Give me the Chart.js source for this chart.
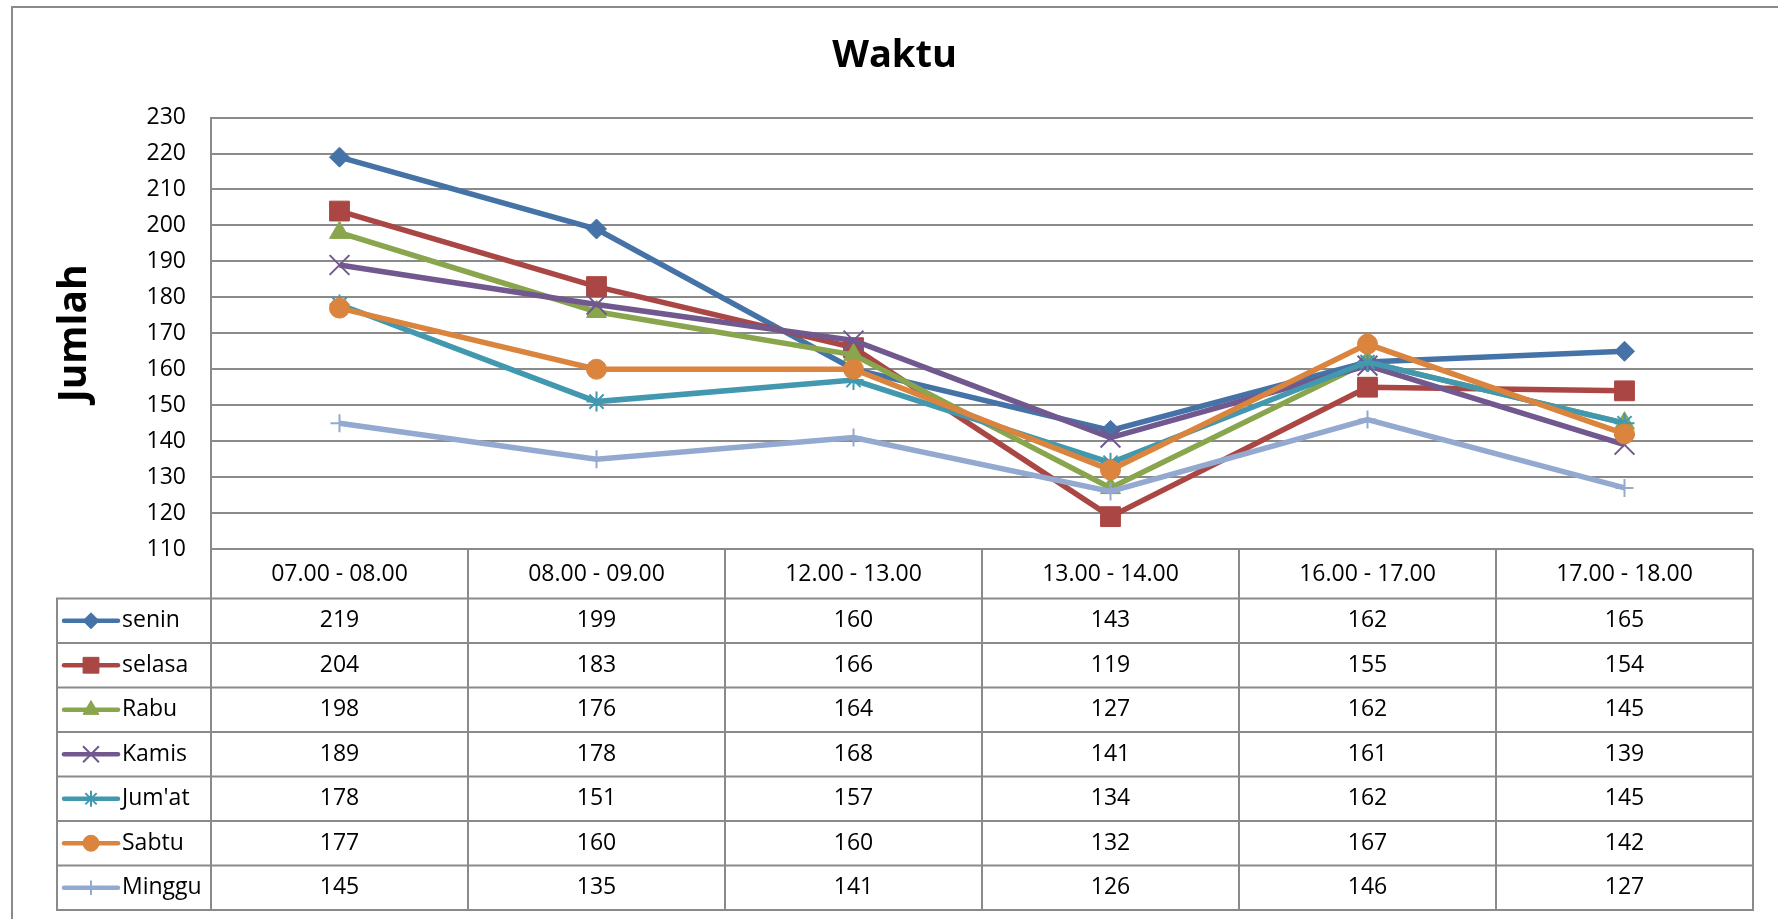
<!DOCTYPE html>
<html>
<head>
<meta charset="utf-8">
<title>Waktu</title>
<script src="https://cdn.jsdelivr.net/npm/chart.js@4.4.1/dist/chart.umd.min.js"></script>
<style>
    html, body { margin: 0; padding: 0; background: #fff; }
    #wrap { position: relative; width: 1778px; height: 919px; }
</style>
</head>
<body>
<div id="wrap"><canvas id="chart"></canvas></div>
<script>
//=================================================
//Data
//=================================================
const categories = ["07.00 - 08.00", "08.00 - 09.00", "12.00 - 13.00", "13.00 - 14.00", "16.00 - 17.00", "17.00 - 18.00"];
const seriesNames = ["senin", "selasa", "Rabu", "Kamis", "Jum'at", "Sabtu", "Minggu"];

const senin = [219, 199, 160, 143, 162, 165];
const selasa = [204, 183, 166, 119, 155, 154];
const rabu = [198, 176, 164, 127, 162, 145];
const kamis = [189, 178, 168, 141, 161, 139];
const jumat = [178, 151, 157, 134, 162, 145];
const sabtu = [177, 160, 160, 132, 167, 142];
const minggu = [145, 135, 141, 126, 146, 127];

const yMin = 110;
const yMax = 230;
const yStep = 10;

//=================================================
//Styles
//=================================================
const colors = ["#4572A7", "#AA4643", "#89A54E", "#71588F", "#4198AF", "#DB843D", "#93A9CF"];
const markers = ["rectRot", "rect", "triangle", "crossRot", "star", "circle", "cross"];
const markerRadius = [10, 14, 11.5, 14, 10, 10, 9];
const markerBorder = [1, 1, 1, 2, 2, 1, 2];
const gridColor = "#8a8a8a";
const fontFamily = "'Open Sans', sans-serif";

Chart.defaults.font.family = fontFamily;
Chart.defaults.color = "#000";

const seriesValues = [senin, selasa, rabu, kamis, jumat, sabtu, minggu];

//=================================================
//Data table plugin (drawn under the plot)
//=================================================
const dataTable = {
    id: "dataTable",
    beforeDraw: (chart) => {
        const ctx = chart.ctx;
        ctx.save();
        ctx.strokeStyle = gridColor;
        ctx.lineWidth = 2;
        ctx.strokeRect(12, 7, 1800, 1000);
        ctx.restore();
    },
    afterDraw: (chart) => {
        const { ctx, chartArea, scales } = chart;
        const x = scales.x;
        const top = chartArea.bottom;
        const headerH = 49.5;
        const rowH = 44.5;
        const legendLeft = 57;
        const rowsTop = top + headerH;
        const bottom = rowsTop + rowH * seriesNames.length;

        const edges = [chartArea.left];
        for (let i = 1; i < categories.length; i++) {
            edges.push((x.getPixelForValue(i - 1) + x.getPixelForValue(i)) / 2);
        }
        edges.push(chartArea.right);

        ctx.save();
        ctx.strokeStyle = gridColor;
        ctx.lineWidth = 2;
        ctx.beginPath();
        edges.forEach((e) => {
            ctx.moveTo(e, top);
            ctx.lineTo(e, bottom);
        });
        ctx.moveTo(legendLeft, rowsTop);
        ctx.lineTo(legendLeft, bottom);
        for (let r = 0; r <= seriesNames.length; r++) {
            const y = rowsTop + r * rowH;
            ctx.moveTo(legendLeft - 1, y);
            ctx.lineTo(chartArea.right + 1, y);
        }
        ctx.stroke();

        ctx.font = "23px " + fontFamily;
        ctx.textBaseline = "middle";
        seriesNames.forEach((name, r) => {
            const cy = rowsTop + r * rowH + rowH / 2;

            ctx.fillStyle = "#000";
            ctx.textAlign = "center";
            seriesValues[r].forEach((v, i) => {
                ctx.fillText(String(v), x.getPixelForValue(i), cy);
            });

            // legend key
            ctx.strokeStyle = colors[r];
            ctx.lineWidth = 4.5;
            ctx.lineCap = "round";
            ctx.beginPath();
            ctx.moveTo(64, cy);
            ctx.lineTo(118, cy);
            ctx.stroke();
            ctx.lineCap = "butt";
            ctx.fillStyle = colors[r];
            ctx.lineWidth = markerBorder[r];
            Chart.helpers.drawPoint(ctx, {
                pointStyle: markers[r],
                radius: markerRadius[r] * 0.8,
                rotation: 0,
                borderWidth: markerBorder[r],
            }, 91, cy);

            ctx.fillStyle = "#000";
            ctx.textAlign = "left";
            ctx.fillText(name, 122, cy);
        });
        ctx.restore();
    },
};

//=================================================
//Chart.js
//=================================================
const drawChart = () => {
    const datasets = seriesNames.map((name, i) => ({
        label: name,
        data: seriesValues[i],
        borderColor: colors[i],
        backgroundColor: colors[i],
        borderWidth: 5.5,
        pointStyle: markers[i],
        pointRadius: markerRadius[i],
        pointHoverRadius: markerRadius[i],
        pointBorderWidth: markerBorder[i],
        pointBackgroundColor: colors[i],
        pointBorderColor: colors[i],
        tension: 0,
        order: seriesNames.length - i,
    }));

    const config = {
        type: "line",
        data: {
            labels: categories,
            datasets: datasets,
        },
        options: {
            responsive: true,
            maintainAspectRatio: false,
            animation: false,
            layout: {
                padding: { left: 11, right: 0, top: 0, bottom: 0 },
            },
            scales: {
                x: {
                    offset: true,
                    grid: { display: false, drawTicks: false },
                    border: { display: false },
                    ticks: {
                        font: { size: 23 },
                        color: "#000",
                        padding: 12,
                        maxRotation: 0,
                        autoSkip: false,
                    },
                    afterFit: (scale) => {
                        scale.height = 370;
                    },
                },
                y: {
                    min: yMin,
                    max: yMax,
                    ticks: {
                        stepSize: yStep,
                        font: { size: 23 },
                        color: "#000",
                        padding: 25,
                    },
                    grid: {
                        color: gridColor,
                        lineWidth: 2,
                        drawTicks: false,
                    },
                    border: { color: gridColor, width: 2 },
                    title: {
                        display: true,
                        text: "Jumlah",
                        color: "#000",
                        font: { size: 39, weight: "bold" },
                        padding: { top: 40, bottom: 0 },
                    },
                    afterFit: (scale) => {
                        scale.width = 200;
                    },
                },
                y2: {
                    position: "right",
                    display: true,
                    grid: { display: false, drawTicks: false },
                    border: { display: false },
                    ticks: { display: false },
                    afterFit: (scale) => {
                        scale.width = 25;
                    },
                },
            },
            plugins: {
                legend: { display: false },
                tooltip: { enabled: false },
                title: {
                    display: true,
                    text: "Waktu",
                    color: "#000",
                    font: { size: 38, weight: "bold" },
                    padding: { top: 33, bottom: 39 },
                },
            },
        },
        plugins: [dataTable],
    };

    new Chart(document.getElementById("chart"), config);
};

drawChart();
</script>
</body>
</html>
